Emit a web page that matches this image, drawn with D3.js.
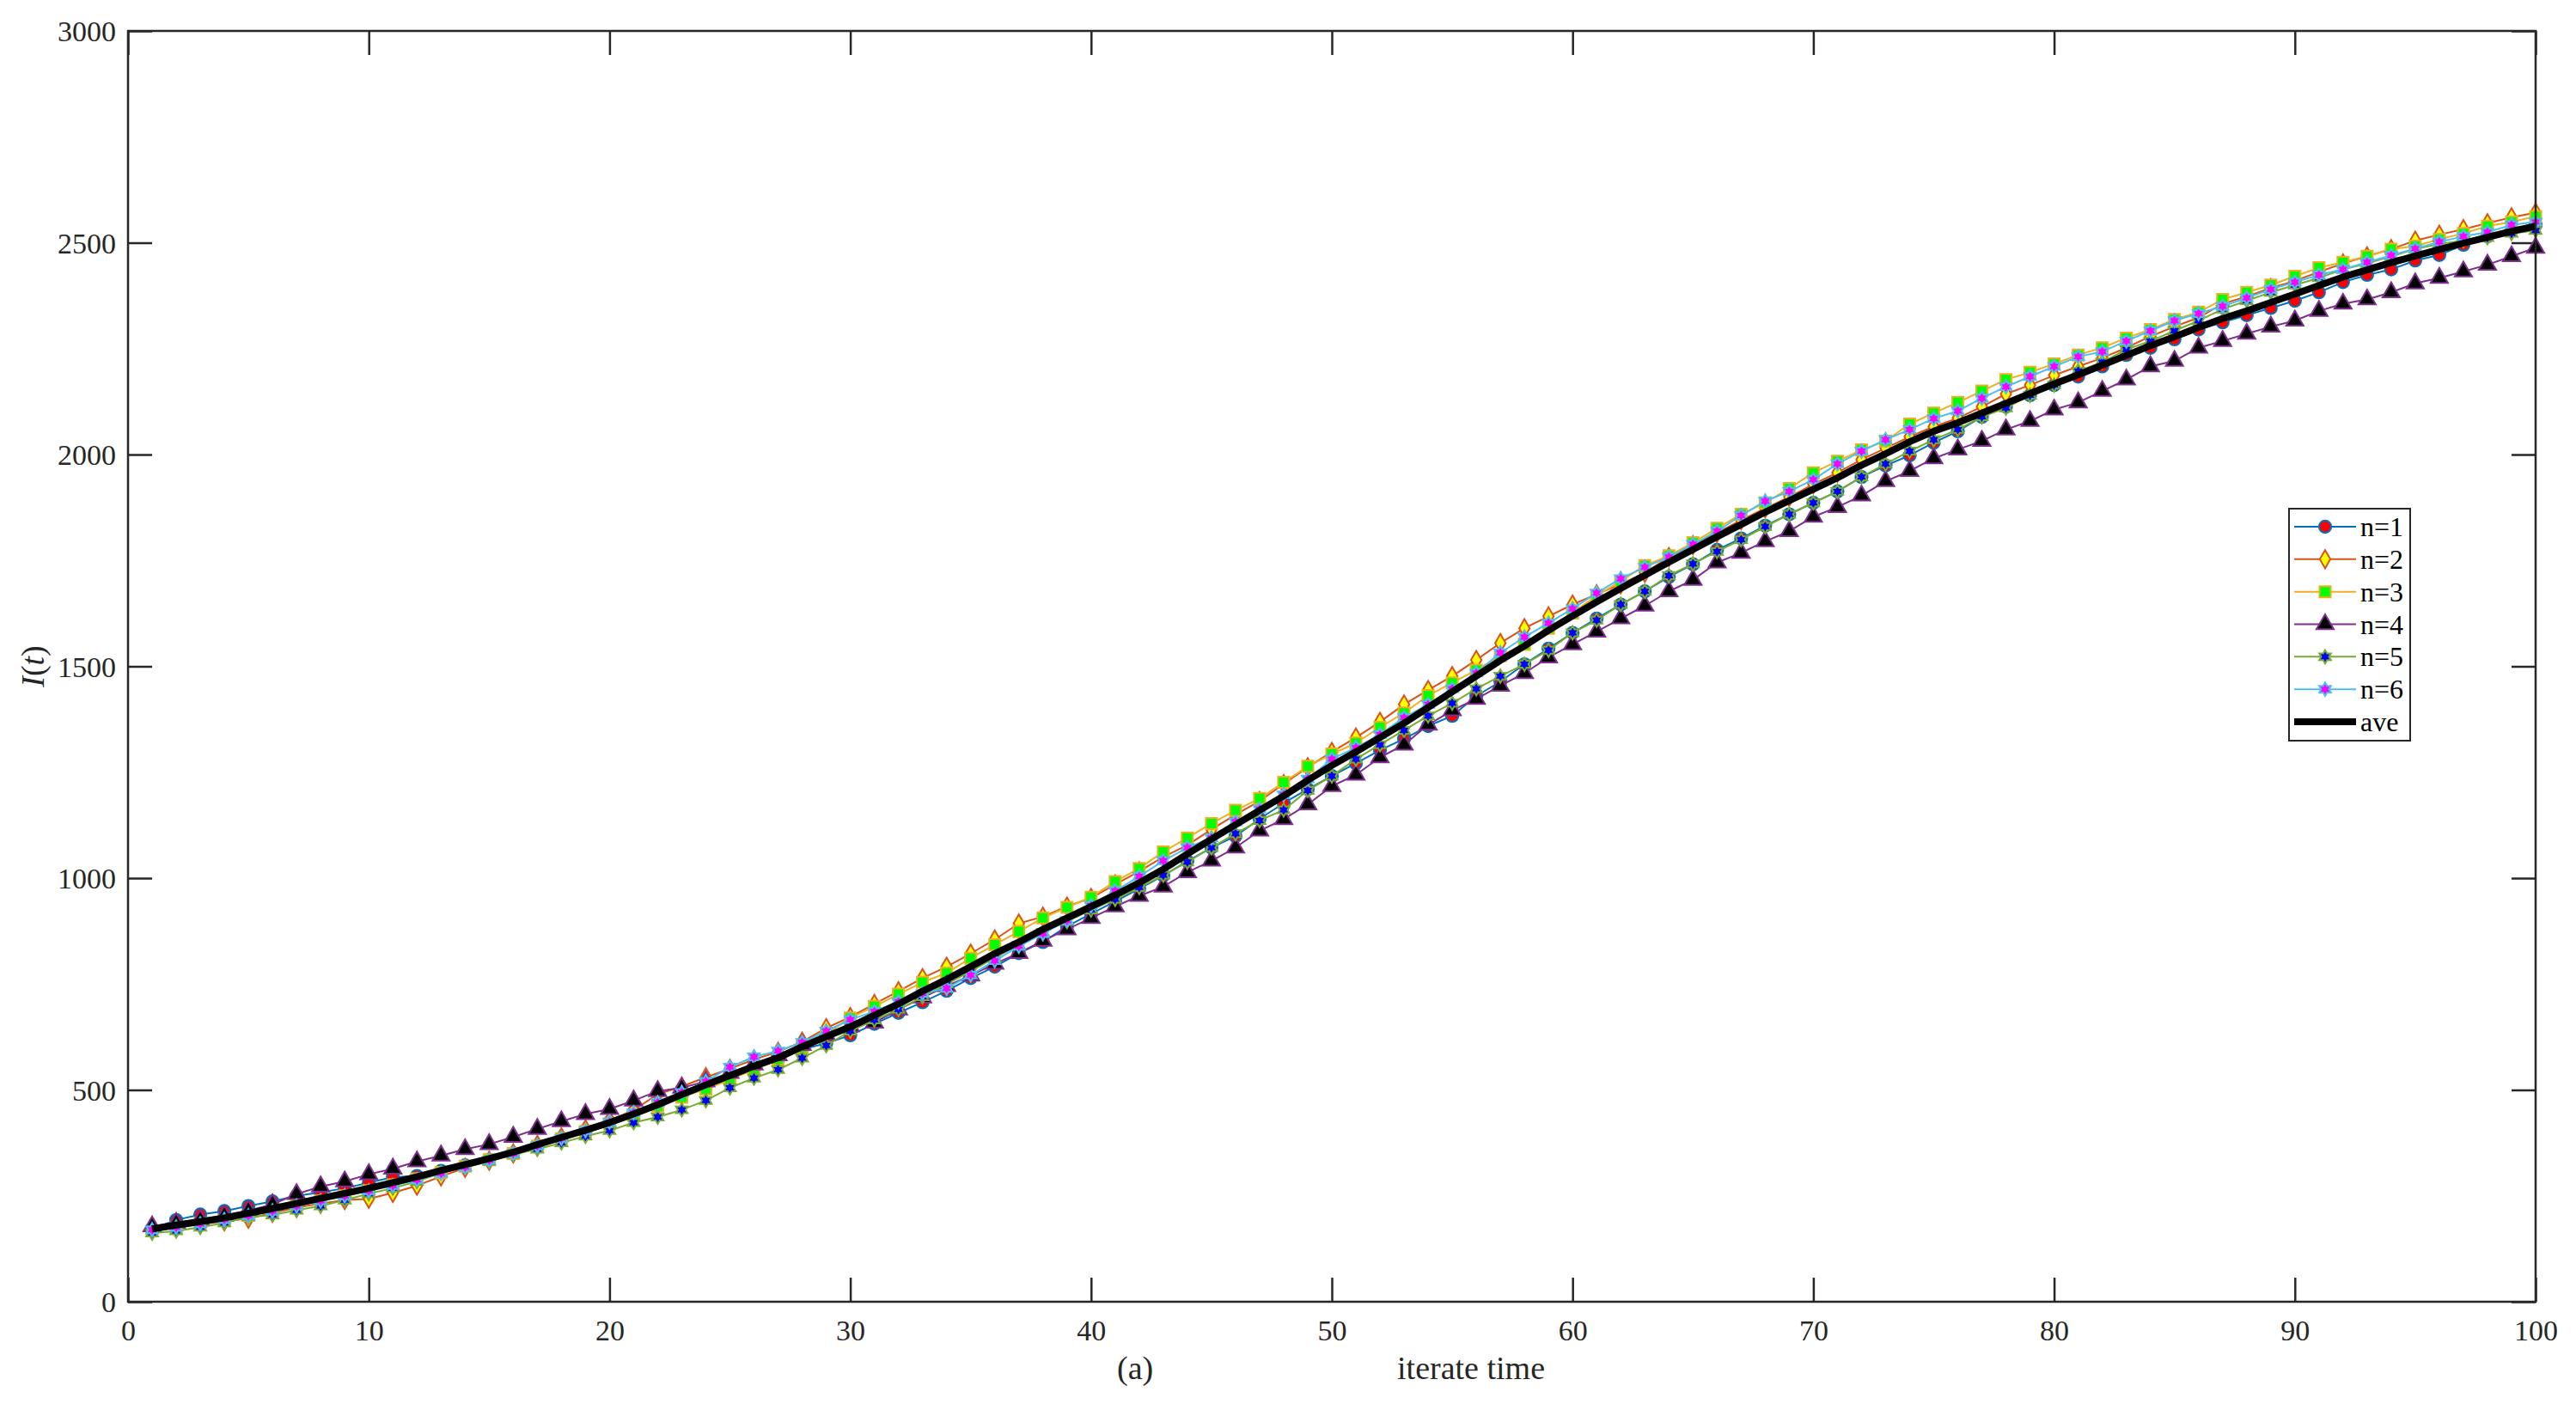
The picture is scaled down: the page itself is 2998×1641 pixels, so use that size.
<!DOCTYPE html>
<html>
<head>
<meta charset="utf-8">
<script src="https://cdn.jsdelivr.net/npm/d3@7"></script>
<style>
  html, body { margin: 0; padding: 0; background: #fff; }
  svg { display: block; }
</style>
</head>
<body>
<script>
// ---------------- DATA ----------------
const iterations = d3.range(1, 101);
const xTickValues = [0, 10, 20, 30, 40, 50, 60, 70, 80, 90, 100];
const yTickValues = [0, 500, 1000, 1500, 2000, 2500, 3000];
const seriesNames = ["n=1", "n=2", "n=3", "n=4", "n=5", "n=6", "ave"];

const n1 = [172,193,206,214,226,237,250,258,268,281,
  294,297,309,322,335,350,368,386,404,424,
  447,464,487,510,530,551,570,596,610,629,
  656,682,707,734,764,791,823,849,886,916,
  945,975,1006,1040,1072,1099,1140,1177,1210,1241,
  1271,1302,1329,1359,1383,1430,1464,1505,1542,1579,
  1613,1646,1677,1711,1741,1775,1802,1832,1859,1886,
  1913,1947,1974,1998,2028,2055,2089,2113,2140,2164,
  2184,2208,2235,2252,2272,2295,2312,2329,2346,2363,
  2383,2407,2424,2437,2458,2471,2495,2515,2529,2542];

const n2 = [169,174,183,190,196,210,222,232,240,243,
  257,274,296,316,333,350,370,388,407,428,
  452,490,508,530,550,572,590,614,646,672,
  703,733,764,791,822,855,893,909,933,953,
  985,1016,1050,1078,1115,1150,1182,1222,1262,1298,
  1332,1369,1410,1444,1477,1515,1555,1590,1618,1646,
  1670,1694,1721,1758,1786,1815,1845,1873,1900,1930,
  1957,1988,2015,2042,2066,2086,2113,2143,2164,2187,
  2208,2228,2252,2279,2302,2323,2356,2373,2393,2410,
  2431,2451,2468,2485,2505,2519,2532,2546,2560,2571];

const n3 = [168,176,185,193,204,215,227,238,250,262,
  276,290,305,320,335,350,367,385,402,420,
  440,462,483,502,524,548,572,600,632,670,
  697,726,754,776,811,843,874,906,931,955,
  992,1023,1062,1095,1129,1160,1188,1226,1264,1293,
  1319,1356,1390,1431,1461,1491,1525,1552,1590,1626,
  1667,1701,1738,1761,1792,1826,1859,1886,1920,1957,
  1984,2011,2032,2072,2098,2123,2150,2177,2194,2214,
  2235,2252,2275,2295,2319,2336,2366,2383,2400,2421,
  2441,2454,2468,2485,2492,2508,2522,2539,2549,2562];

const n4 = [178,186,193,203,215,230,254,272,284,301,
  314,331,345,360,372,389,408,426,443,455,
  475,497,505,520,540,560,582,606,630,650,
  659,690,718,745,770,798,823,852,879,906,
  933,958,980,1014,1041,1072,1112,1139,1174,1217,
  1244,1285,1315,1362,1396,1423,1454,1484,1521,1552,
  1582,1613,1643,1677,1704,1745,1768,1795,1819,1853,
  1876,1903,1937,1961,1991,2012,2032,2059,2079,2106,
  2123,2150,2177,2208,2221,2252,2268,2285,2302,2316,
  2339,2356,2366,2383,2404,2417,2432,2448,2468,2488];

const n5 = [162,167,176,186,200,205,216,226,240,255,
  268,284,304,318,331,348,360,375,391,404,
  423,436,453,475,505,528,548,575,605,639,
  665,690,720,750,780,812,842,872,898,925,
  950,978,1007,1038,1072,1105,1136,1161,1207,1241,
  1281,1315,1349,1383,1413,1447,1477,1505,1538,1579,
  1609,1646,1677,1714,1742,1771,1799,1830,1859,1886,
  1913,1947,1978,2008,2035,2059,2089,2110,2140,2164,
  2197,2218,2248,2268,2292,2316,2343,2363,2383,2400,
  2417,2437,2451,2468,2485,2497,2505,2512,2522,2529];

const n6 = [170,176,184,194,203,214,226,238,250,262,
  274,288,303,318,334,350,368,386,404,424,
  446,470,494,520,554,578,592,612,639,666,
  685,708,728,740,771,805,839,869,900,935,
  970,1004,1041,1072,1095,1133,1163,1197,1234,1281,
  1308,1339,1379,1410,1447,1484,1532,1569,1602,1636,
  1673,1707,1734,1758,1788,1819,1856,1890,1913,1941,
  1978,2008,2035,2059,2085,2103,2133,2160,2184,2208,
  2231,2243,2268,2292,2316,2333,2350,2370,2390,2407,
  2424,2437,2454,2470,2486,2502,2515,2525,2542,2549];

const ave = [172,181,189,198,209,220,232,244,256,268,
  281,295,310,324,338,353,371,388,405,423,
  443,465,489,512,534,556,576,602,626,649,
  676,703,733,761,791,822,849,879,906,933,
  960,989,1021,1057,1092,1126,1160,1194,1231,1266,
  1298,1332,1366,1403,1440,1477,1514,1548,1585,1619,
  1652,1684,1715,1746,1776,1806,1835,1864,1891,1918,
  1945,1975,2002,2030,2055,2075,2098,2121,2144,2167,
  2188,2211,2234,2257,2278,2300,2321,2339,2359,2379,
  2399,2419,2436,2453,2469,2484,2499,2513,2527,2539];

// ---------------- LAYOUT / STYLE ----------------
const W = 2998, H = 1641;
const M = { left: 149, right: 2951, top: 36, bottom: 1515 };
const FONT = "'Liberation Serif', 'Times New Roman', serif";
const AXIS_COLOR = "#262626";

const hexagram = {
  draw(ctx, size) {
    const R = Math.sqrt(size / 1.6);
    const r = R / Math.sqrt(3);
    for (let i = 0; i < 12; i++) {
      const a = -Math.PI / 2 + i * Math.PI / 6;
      const rad = (i % 2 === 0) ? R : r;
      const px = rad * Math.cos(a), py = rad * Math.sin(a);
      if (i === 0) ctx.moveTo(px, py); else ctx.lineTo(px, py);
    }
    ctx.closePath();
  }
};

const styles = [
  { line: "#0072BD", fill: "#FF0000", sym: d3.symbolCircle, size: 160 },
  { line: "#D95319", fill: "#FFFF00", sym: d3.symbolDiamond, size: 130 },
  { line: "#EDB120", fill: "#00FF00", sym: d3.symbolSquare, size: 170 },
  { line: "#7E2F8E", fill: "#000000", sym: d3.symbolTriangle, size: 175 },
  { line: "#77AC30", fill: "#0000FF", sym: hexagram, size: 100 },
  { line: "#4DBEEE", fill: "#FF00FF", sym: hexagram, size: 100 }
];
const seriesData = [n1, n2, n3, n4, n5, n6];

const svg = d3.select("body").append("svg")
  .attr("width", W).attr("height", H)
  .style("font-family", FONT);

svg.append("rect").attr("width", W).attr("height", H).attr("fill", "#fff");

const x = d3.scaleLinear().domain([0, 100]).range([M.left, M.right]);
const y = d3.scaleLinear().domain([0, 3000]).range([M.bottom, M.top]);

// ---------------- AXES ----------------
const TL = 28;
const gx = svg.append("g").attr("transform", `translate(0,${M.bottom})`)
  .call(d3.axisBottom(x).tickValues(xTickValues).tickSize(-TL).tickFormat(d3.format("d")));
gx.select(".domain").remove();
gx.selectAll(".tick line").attr("stroke", AXIS_COLOR).attr("stroke-width", 2.5);
gx.selectAll(".tick text").attr("y", 45).attr("dy", null)
  .attr("fill", AXIS_COLOR).style("font-size", "34px").style("font-family", FONT);

const gxt = svg.append("g").attr("transform", `translate(0,${M.top})`)
  .call(d3.axisTop(x).tickValues(xTickValues).tickSize(-TL).tickFormat(""));
gxt.select(".domain").remove();
gxt.selectAll(".tick line").attr("stroke", AXIS_COLOR).attr("stroke-width", 2.5);

const gy = svg.append("g").attr("transform", `translate(${M.left},0)`)
  .call(d3.axisLeft(y).tickValues(yTickValues).tickSize(-TL).tickFormat(d3.format("d")));
gy.select(".domain").remove();
gy.selectAll(".tick line").attr("stroke", AXIS_COLOR).attr("stroke-width", 2.5);
gy.selectAll(".tick text").attr("x", -14).attr("dy", "0.34em")
  .attr("fill", AXIS_COLOR).style("font-size", "34px").style("font-family", FONT);

const gyr = svg.append("g").attr("transform", `translate(${M.right},0)`)
  .call(d3.axisRight(y).tickValues(yTickValues).tickSize(-TL).tickFormat(""));
gyr.select(".domain").remove();
gyr.selectAll(".tick line").attr("stroke", AXIS_COLOR).attr("stroke-width", 2.5);

// ---------------- SERIES ----------------
const lineGen = d3.line().x((d, i) => x(iterations[i])).y(d => y(d));
const plot = svg.append("g");

seriesData.forEach((vals, k) => {
  const st = styles[k];
  const g = plot.append("g");
  g.append("path").datum(vals)
    .attr("d", lineGen).attr("fill", "none")
    .attr("stroke", st.line).attr("stroke-width", 2)
    .attr("stroke-linejoin", "round");
  const sym = d3.symbol().type(st.sym).size(st.size);
  g.selectAll("path.mk").data(vals).join("path").attr("class", "mk")
    .attr("d", sym)
    .attr("transform", (d, i) => `translate(${x(iterations[i])},${y(d)})`)
    .attr("fill", st.fill).attr("stroke", st.line).attr("stroke-width", 2);
});

plot.append("path").datum(ave)
  .attr("d", lineGen).attr("fill", "none")
  .attr("stroke", "#000").attr("stroke-width", 8)
  .attr("stroke-linejoin", "round");

// ---------------- BOX ----------------
svg.append("rect")
  .attr("x", M.left).attr("y", M.top)
  .attr("width", M.right - M.left).attr("height", M.bottom - M.top)
  .attr("fill", "none").attr("stroke", AXIS_COLOR).attr("stroke-width", 2.5);

// ---------------- LABELS ----------------
const cx = (M.left + M.right) / 2;
svg.append("text").attr("x", cx - 250).attr("y", 1605)
  .attr("text-anchor", "start").attr("fill", AXIS_COLOR)
  .style("font-size", "38px").text("(a)");
svg.append("text").attr("x", cx + 248).attr("y", 1605)
  .attr("text-anchor", "end").attr("fill", AXIS_COLOR)
  .style("font-size", "38px").text("iterate time");

const yl = svg.append("text")
  .attr("transform", `translate(51,${(M.top + M.bottom) / 2}) rotate(-90)`)
  .attr("text-anchor", "middle").attr("fill", AXIS_COLOR)
  .style("font-size", "38px");
yl.append("tspan").style("font-style", "italic").text("I");
yl.append("tspan").text("(");
yl.append("tspan").style("font-style", "italic").text("t");
yl.append("tspan").text(")");

// ---------------- LEGEND ----------------
const leg = svg.append("g");
leg.append("rect").attr("x", 2664).attr("y", 592).attr("width", 141).attr("height", 270)
  .attr("fill", "#fff").attr("stroke", AXIS_COLOR).attr("stroke-width", 2);
const legY = d3.scaleLinear().domain([0, 6]).range([613, 840]);
seriesNames.forEach((name, k) => {
  const ly = legY(k);
  if (k < 6) {
    const st = styles[k];
    leg.append("line").attr("x1", 2670).attr("x2", 2742).attr("y1", ly).attr("y2", ly)
      .attr("stroke", st.line).attr("stroke-width", 2);
    leg.append("path").attr("d", d3.symbol().type(st.sym).size(st.size)())
      .attr("transform", `translate(2706,${ly})`)
      .attr("fill", st.fill).attr("stroke", st.line).attr("stroke-width", 2);
  } else {
    leg.append("line").attr("x1", 2670).attr("x2", 2742).attr("y1", ly).attr("y2", ly)
      .attr("stroke", "#000").attr("stroke-width", 8);
  }
  leg.append("text").attr("x", 2747).attr("y", ly + 11)
    .attr("fill", "#000").style("font-size", "32px").text(name);
});
</script>
</body>
</html>
